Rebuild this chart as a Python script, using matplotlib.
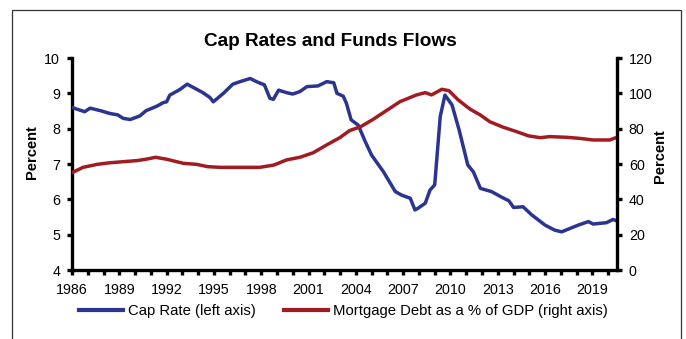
import matplotlib
matplotlib.use("Agg")
import matplotlib.pyplot as plt
from matplotlib.patches import Rectangle
from matplotlib.lines import Line2D

plt.rcParams['font.family'] = ['Liberation Sans', 'DejaVu Sans']

# Cap rate, percent (left axis)
cap_years = [1986.0, 1986.8, 1987.15, 1987.8, 1988.4, 1988.9, 1989.25, 1989.7, 1990.3, 1990.7,
             1991.4, 1991.8, 1992.0, 1992.2, 1992.85, 1993.3, 1993.8, 1994.3, 1994.75, 1994.96,
             1995.6, 1996.2, 1996.65, 1997.3, 1997.7, 1998.2, 1998.55, 1998.77, 1999.1, 1999.6,
             2000.0, 2000.45, 2000.9, 2001.6, 2002.15, 2002.6, 2002.8, 2003.2, 2003.4, 2003.7,
             2004.15, 2004.6, 2005.0, 2005.75, 2006.5, 2006.9, 2007.45, 2007.75, 2007.95, 2008.4,
             2008.7, 2009.0, 2009.35, 2009.65, 2010.1, 2010.55, 2011.1, 2011.45, 2011.9, 2012.6,
             2013.25, 2013.7, 2014.0, 2014.6, 2015.15, 2016.0, 2016.6, 2017.05, 2017.6, 2018.1,
             2018.75, 2019.05, 2019.9, 2020.3, 2020.55]
cap_rate = [8.60, 8.48, 8.58, 8.51, 8.43, 8.39, 8.29, 8.26, 8.36, 8.51,
            8.64, 8.74, 8.76, 8.95, 9.11, 9.26, 9.14, 9.02, 8.88, 8.76,
            9.00, 9.26, 9.33, 9.42, 9.33, 9.24, 8.86, 8.83, 9.09, 9.02,
            8.98, 9.05, 9.19, 9.21, 9.33, 9.30, 9.00, 8.92, 8.72, 8.25,
            8.10, 7.63, 7.25, 6.78, 6.22, 6.12, 6.03, 5.70, 5.75, 5.89,
            6.26, 6.41, 8.34, 8.95, 8.67, 7.96, 6.97, 6.78, 6.31, 6.22,
            6.06, 5.96, 5.77, 5.79, 5.56, 5.27, 5.13, 5.08, 5.18, 5.27,
            5.37, 5.30, 5.34, 5.43, 5.39]

# Mortgage debt as a % of GDP (right axis)
debt_years = [1986.0, 1986.7, 1987.6, 1988.4, 1989.25, 1990.1, 1990.7, 1991.3, 1992.0, 1993.05,
              1993.9, 1994.6, 1995.4, 1996.65, 1997.9, 1998.8, 1999.6, 2000.45, 2001.3, 2002.15,
              2003.0, 2003.6, 2004.3, 2005.1, 2006.0, 2006.8, 2007.85, 2008.4, 2008.8, 2009.45,
              2009.9, 2010.5, 2011.25, 2011.9, 2012.5, 2013.35, 2014.2, 2014.95, 2015.7, 2016.3,
              2017.4, 2018.2, 2019.05, 2020.1, 2020.55]
mortgage_debt = [55.1, 58.1, 59.8, 60.7, 61.3, 61.9, 62.7, 63.8, 62.7, 60.4,
                 59.8, 58.5, 58.1, 58.1, 58.1, 59.4, 62.3, 63.8, 66.4, 70.8,
                 75.0, 78.9, 81.1, 85.3, 90.6, 95.3, 99.1, 100.4, 99.1, 102.3,
                 101.5, 96.2, 91.0, 87.7, 83.9, 80.8, 78.3, 75.9, 74.9, 75.5,
                 75.1, 74.5, 73.6, 73.6, 75.1]

label_years = list(range(1986, 2020, 3))
minor_years = list(range(1986, 2021))
left_ticks = [4, 5, 6, 7, 8, 9, 10]
right_ticks = [0, 20, 40, 60, 80, 100, 120]

BLUE = '#2B3590'
RED = '#A01C22'
W, H = 686, 339

fig = plt.figure(figsize=(W / 100, H / 100), dpi=100)
fig.patch.set_facecolor('white')

# outer frame
fig.add_artist(Rectangle((12 / W, -0.05), (681 - 12) / W, 1 - 10 / H + 0.05,
                         transform=fig.transFigure, fill=False,
                         edgecolor='#333333', linewidth=0.9))

ax = fig.add_axes([72 / W, 1 - 270 / H, (617 - 72) / W, (270 - 58) / H])
ax2 = ax.twinx()

ax.plot(cap_years, cap_rate, color=BLUE, lw=2.5, solid_joinstyle='round',
        solid_capstyle='round', zorder=3)
ax2.plot(debt_years, mortgage_debt, color=RED, lw=2.5, solid_joinstyle='round',
         solid_capstyle='round', zorder=2)

ax.set_xlim(1986, 2020.56)
ax.set_ylim(4, 10)
ax2.set_ylim(0, 120)

ax.set_xticks(minor_years)
ax.set_xticklabels([str(y) if y in label_years else '' for y in minor_years])
ax.set_yticks(left_ticks)
ax2.set_yticks(right_ticks)

for a in (ax, ax2):
    a.spines['top'].set_visible(False)
    for s in ('left', 'right', 'bottom'):
        a.spines[s].set_linewidth(2.4)
        a.spines[s].set_color('black')
    a.tick_params(direction='out', length=3.5, width=2.4, labelsize=10.3, pad=5)
ax.spines['right'].set_visible(False)
ax2.spines['left'].set_visible(False)
ax2.spines['bottom'].set_visible(False)
ax.tick_params(axis='x', pad=6)

# axis titles
fig.text(32 / W, 1 - 152 / H, 'Percent', rotation=90, ha='center', va='center',
         fontsize=10.5, fontweight='bold')
fig.text(660 / W, 1 - 156 / H, 'Percent', rotation=90, ha='center', va='center',
         fontsize=10.5, fontweight='bold')

fig.text(330 / W, 1 - 42 / H, 'Cap Rates and Funds Flows', ha='center', va='center',
         fontsize=13.7, fontweight='bold')

handles = [Line2D([], [], color=BLUE, lw=3.0),
           Line2D([], [], color=RED, lw=3.0)]
fig.legend(handles, ['Cap Rate (left axis)', 'Mortgage Debt as a % of GDP (right axis)'],
           loc='center', bbox_to_anchor=(343 / W, 1 - 311 / H), ncol=2, frameon=False,
           fontsize=10.7, handlelength=3.0, handletextpad=0.3, columnspacing=1.9)

fig.savefig('out.png', dpi=100, facecolor='white')
